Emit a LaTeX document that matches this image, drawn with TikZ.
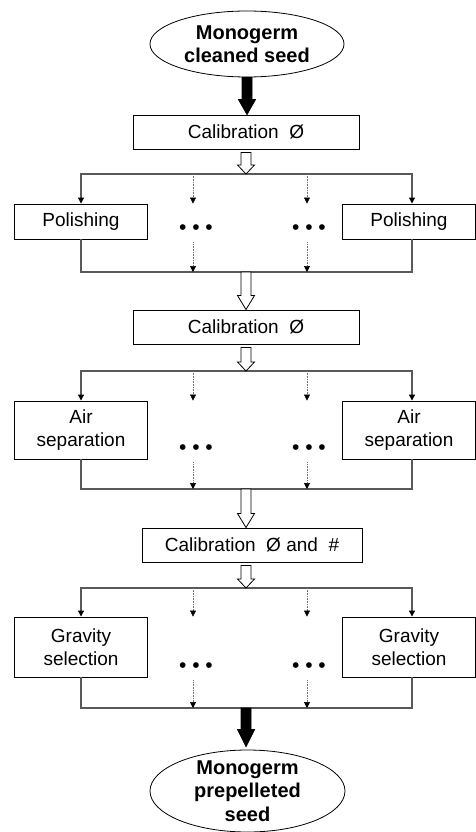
\documentclass[tikz,border=0pt]{standalone}
\usepackage{fontspec}
\setmainfont{Liberation Sans}
\usetikzlibrary{arrows.meta,calc,shapes.geometric}

% wide block arrow straight down: style, from, to, head length
\newcommand{\blockarrow}[4]{%
  \draw[#1] ($#2+(-5,0)$) -- ($#3+(-5,-#4)$) -- ($#3+(-8.5,-#4)$) -- #3
    -- ($#3+(8.5,-#4)$) -- ($#3+(5,-#4)$) -- ($#2+(5,0)$) -- cycle;
}

\begin{document}
\begin{tikzpicture}[
  x=1pt,
  y=-1pt,
  font=\fontsize{19}{23}\selectfont,
  seedbox/.style={
    draw=black,
    ellipse,
    line width=0.8pt,
    minimum width=194pt,
    minimum height=66pt,
    inner sep=0pt,
    align=center,
    font=\fontsize{20}{23.5}\selectfont\bfseries
  },
  calbox/.style={
    draw=black,
    fill=white,
    line width=0.9pt,
    minimum width=226pt,
    minimum height=34pt,
    inner sep=0pt
  },
  sidebox/.style={
    draw=black,
    line width=0.9pt,
    minimum width=133pt,
    inner sep=0pt,
    align=center
  },
  dotsbox/.style={
    font=\fontsize{21}{21}\selectfont,
    inner sep=0pt,
    anchor=base
  },
  conn/.style={
    draw=black!65,
    line width=1.1pt,
    {Triangle[width=6pt,length=6pt,color=black]}-{Triangle[width=6pt,length=6pt,color=black]}
  },
  joinline/.style={
    draw=black!65,
    line width=1.1pt
  },
  dotconn/.style={
    draw=black!55,
    line width=0.6pt,
    dash pattern=on 0.8pt off 0.8pt,
    -{Triangle[width=6pt,length=6pt,color=black]}
  },
  openarrow/.style={
    draw=black,
    fill=white,
    line width=0.8pt
  },
  fullarrow/.style={
    draw=black,
    fill=black,
    line width=0.8pt
  }
]

\fill[white] (0,0) rectangle (476,832);
\useasboundingbox (0,0) rectangle (476,832);

% columns and joining lines
\coordinate (colA) at (81,0);
\coordinate (colB) at (193,0);
\coordinate (colC) at (307,0);
\coordinate (colD) at (412,0);
\coordinate (s1top) at (246,174);
\coordinate (s1bot) at (246,272);
\coordinate (s2top) at (246,371);
\coordinate (s2bot) at (246,489);
\coordinate (s3top) at (246,588);
\coordinate (s3bot) at (246,708);

\node[seedbox] (seedtop) at (247,44) {Monogerm\\cleaned seed};
\node[calbox] (cal1) at (246,132) {Calibration\ \ Ø};

\node[sidebox, minimum height=35pt] (pol1) at (81,221.5) {Polishing};
\node[sidebox, minimum height=35pt] (pol2) at (409,221.5) {Polishing};
\node[dotsbox] (dot1a) at (196,234) {\textbullet\ \textbullet\ \textbullet};
\node[dotsbox] (dot1b) at (309,234) {\textbullet\ \textbullet\ \textbullet};

\node[calbox] (cal2) at (246,327) {Calibration\ \ Ø};

\node[sidebox, minimum height=58pt] (air1) at (81,430) {Air\\separation};
\node[sidebox, minimum height=58pt] (air2) at (409,430) {Air\\separation};
\node[dotsbox] (dot2a) at (196,454) {\textbullet\ \textbullet\ \textbullet};
\node[dotsbox] (dot2b) at (309,454) {\textbullet\ \textbullet\ \textbullet};

\node[calbox, minimum width=220pt] (cal3) at (252,545) {Calibration\ \ Ø and\ \ \#};

\node[sidebox, minimum height=60pt] (grav1) at (81,647) {Gravity\\selection};
\node[sidebox, minimum height=60pt] (grav2) at (409,647) {Gravity\\selection};
\node[dotsbox] (dot3a) at (196,672) {\textbullet\ \textbullet\ \textbullet};
\node[dotsbox] (dot3b) at (309,672) {\textbullet\ \textbullet\ \textbullet};

\node[seedbox, inner ysep=-20pt, minimum width=195pt, minimum height=82pt] (seedbot) at (247.5,791) {Monogerm\\prepelleted\\seed};

% polishing
\draw[conn] (colA |- pol1.north) -- (colA |- s1top) -- (colD |- s1top) -- (colD |- pol2.north);
\draw[dotconn] (colB |- s1top) -- (colB |- pol1.north);
\draw[dotconn] (colC |- s1top) -- (colC |- pol1.north);
\draw[joinline] (colA |- pol1.south) -- (colA |- s1bot) -- (colD |- s1bot) -- (colD |- pol2.south);
\draw[dotconn, shorten <=3pt] (colB |- pol1.south) -- (colB |- s1bot);
\draw[dotconn, shorten <=3pt] (colC |- pol1.south) -- (colC |- s1bot);

% air separation
\draw[conn] (colA |- air1.north) -- (colA |- s2top) -- (colD |- s2top) -- (colD |- air2.north);
\draw[dotconn] (colB |- s2top) -- (colB |- air1.north);
\draw[dotconn] (colC |- s2top) -- (colC |- air1.north);
\draw[joinline] (colA |- air1.south) -- (colA |- s2bot) -- (colD |- s2bot) -- (colD |- air2.south);
\draw[dotconn, shorten <=3pt] (colB |- air1.south) -- (colB |- s2bot);
\draw[dotconn, shorten <=3pt] (colC |- air1.south) -- (colC |- s2bot);

% gravity selection
\draw[conn] (colA |- grav1.north) -- (colA |- s3top) -- (colD |- s3top) -- (colD |- grav2.north);
\draw[dotconn] (colB |- s3top) -- (colB |- grav1.north);
\draw[dotconn] (colC |- s3top) -- (colC |- grav1.north);
\draw[joinline] (colA |- grav1.south) -- (colA |- s3bot) -- (colD |- s3bot) -- (colD |- grav2.south);
\draw[dotconn, shorten <=3pt] (colB |- grav1.south) -- (colB |- s3bot);
\draw[dotconn, shorten <=3pt] (colC |- grav1.south) -- (colC |- s3bot);

% block arrows
\blockarrow{fullarrow}{(seedtop.south)}{(seedtop.south |- cal1.north)}{15}
\blockarrow{openarrow}{($(cal1.south)+(0,3)$)}{(s1top)}{9}
\blockarrow{openarrow}{(s1bot)}{(s1bot |- cal2.north)}{14}
\blockarrow{openarrow}{($(cal2.south)+(0,3)$)}{(s2top)}{9}
\blockarrow{openarrow}{(s2bot)}{(s2bot |- cal3.north)}{14}
\blockarrow{openarrow}{($(s3top |- cal3.south)+(0,3)$)}{(s3top)}{9}
\blockarrow{fullarrow}{(s3bot)}{($(s3bot |- seedbot.north)+(0,-3)$)}{17}

\end{tikzpicture}
\end{document}
